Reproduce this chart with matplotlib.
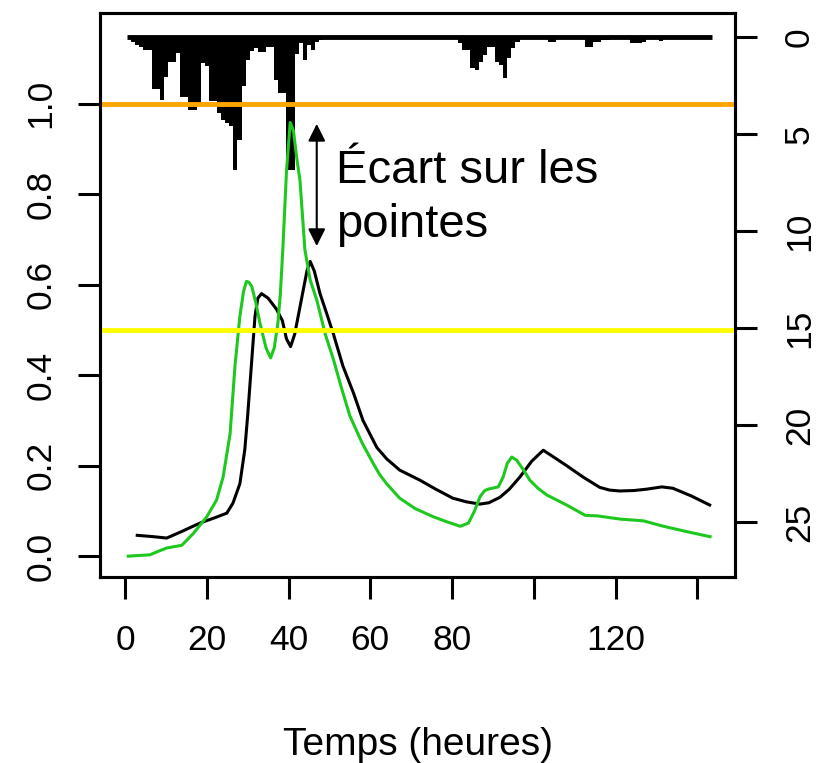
import numpy as np
import matplotlib.pyplot as plt

plt.rcParams['font.family'] = ['Liberation Sans', 'DejaVu Sans']

# débit (normalisé) - courbe noire
black_t = [3.0, 7.0, 10.2, 14.0, 18.3, 22.0, 24.9, 26.4, 28.1, 29.3, 30.0, 30.9, 31.8,
           32.5, 33.4, 35.0, 37.1, 38.5, 39.5, 40.5, 41.5, 43.0, 44.5, 45.3, 46.3, 47.7,
           49.3, 51.0, 53.3, 55.9, 58.2, 61.6, 64.0, 67.2, 72.1, 76.0, 80.2, 83.5, 86.8,
           89.0, 91.7, 94.0, 96.6, 99.5, 102.3, 105.0, 108.0, 112.0, 116.1, 118.5, 121.0,
           124.5, 127.6, 131.3, 134.0, 138.5, 143.0]
black_q = [0.046, 0.043, 0.040, 0.055, 0.073, 0.085, 0.095, 0.117, 0.16, 0.235, 0.31, 0.42, 0.53,
           0.57, 0.58, 0.57, 0.545, 0.52, 0.48, 0.463, 0.49, 0.56, 0.63, 0.651, 0.63, 0.58,
           0.537, 0.49, 0.42, 0.36, 0.30, 0.24, 0.215, 0.19, 0.168, 0.148, 0.128, 0.12, 0.115,
           0.118, 0.13, 0.148, 0.175, 0.21, 0.234, 0.218, 0.20, 0.175, 0.152, 0.146, 0.144,
           0.145, 0.148, 0.153, 0.15, 0.133, 0.113]

# débit (normalisé) - courbe verte
green_t = [0.8, 6.1, 8.5, 10.2, 13.9, 16.7, 20.0, 22.4, 24.0, 25.7, 26.9, 28.1, 29.0, 29.7,
           30.3, 31.0, 32.0, 33.0, 34.5, 35.6, 36.5, 37.4, 38.0, 38.6, 39.5, 40.4, 41.2,
           42.0, 42.8, 44.0, 45.3, 46.9, 49.0, 51.0, 53.0, 55.0, 58.0, 60.7, 62.3, 64.0,
           67.2, 71.0, 75.4, 79.0, 82.0, 84.0, 85.5, 86.8, 88.0, 88.8, 91.3, 92.5, 93.5,
           94.6, 95.8, 97.5, 99.0, 101.0, 103.2, 108.0, 112.6, 115.5, 121.0, 126.8, 131.7,
           137.5, 143.1]
green_q = [0.0, 0.003, 0.012, 0.018, 0.024, 0.05, 0.087, 0.124, 0.175, 0.27, 0.42, 0.53, 0.585, 0.607,
           0.605, 0.596, 0.56, 0.515, 0.46, 0.438, 0.46, 0.515, 0.58, 0.677, 0.85, 0.958, 0.94,
           0.88, 0.83, 0.677, 0.61, 0.566, 0.49, 0.434, 0.37, 0.31, 0.25, 0.205, 0.18, 0.16,
           0.128, 0.105, 0.087, 0.075, 0.066, 0.073, 0.10, 0.131, 0.145, 0.148, 0.153, 0.175, 0.205,
           0.219, 0.212, 0.19, 0.168, 0.15, 0.135, 0.113, 0.09, 0.089, 0.082, 0.078, 0.066,
           0.054, 0.043]

# pluie horaire (mm)
rain_hours = np.arange(1, 144)
event1_mm = [0.05, 0.24, 0.4, 0.5, 0.67, 0.67, 2.7, 2.7, 3.25, 2.05, 1.27, 1.27, 0.84,
             3.1, 3.1, 3.76, 3.76, 3.5, 1.35, 1.5, 3.3, 3.3, 3.9, 4.3, 4.45, 4.6, 6.85,
             5.3, 2.5, 1.2, 0.7, 0.58, 0.76, 0.76, 0.5, 0.5, 2.2, 2.9, 2.9, 6.85, 6.85,
             0.85, 0.3, 1.2, 0.4, 0.67, 0.24, 0.15]          # heures 1-48
event2_mm = [0.3, 0.67, 0.67, 1.6, 1.7, 1.27, 0.93, 0.5, 0.5, 1.27, 1.44, 2.1, 1.1,
             0.57, 0.24]                                     # heures 82-96
small_hours = [104, 105, 113, 114, 115, 116, 117, 118, 124, 125, 126, 127, 131]
small_mm = [0.24, 0.24, 0.5, 0.5, 0.24, 0.24, 0.15, 0.15, 0.3, 0.3, 0.3, 0.24, 0.2]

x_ticks = [0, 20, 40, 60, 80, 100, 120, 140]
x_labels = ['0', '20', '40', '60', '80', '', '120', '']
left_ticks = [0.0, 0.2, 0.4, 0.6, 0.8, 1.0]
right_ticks = [0, 5, 10, 15, 20, 25]

rain = np.zeros(len(rain_hours))
rain[0:48] = event1_mm
rain[81:96] = event2_mm
rain[np.array(small_hours) - 1] = small_mm

fig = plt.figure(figsize=(8.22, 7.63), dpi=100)
ax = fig.add_axes([0.1217, 0.2438, 0.7725, 0.7392])
ax2 = ax.twinx()
ax.set_zorder(ax2.get_zorder() + 1)
ax.patch.set_visible(False)

# hyetogramme
ax2.fill_between(rain_hours, 0, rain, step='mid', color='black', lw=0)
ax2.plot([rain_hours[0] - 0.5, rain_hours[-1] + 0.5], [0, 0], color='black',
         lw=3.5, solid_capstyle='butt')
ax2.set_ylim(27.83, -1.24)
ax2.set_yticks(right_ticks)

ax.plot(black_t, black_q, color='black', lw=2.2)
ax.plot(green_t, green_q, color='#1ec81e', lw=2.2)
ax.axhline(1.0, color='#FFA500', lw=3.5)
ax.axhline(0.5, color='#FFFF00', lw=3.5)

ax.set_xlim(-6.1, 149.2)
ax.set_ylim(-0.046, 1.2)
ax.set_xticks(x_ticks)
ax.set_xticklabels(x_labels)
ax.set_yticks(left_ticks)
ax.set_yticklabels([f'{v:.1f}' for v in left_ticks])

ax.tick_params(axis='x', length=16, width=2.2, labelsize=25.5, pad=18)
ax.tick_params(axis='y', length=16, width=2.2, labelsize=25.5, pad=14.5, labelrotation=90)
ax2.tick_params(axis='y', length=16, width=2.2, labelsize=25.5, pad=18.5, labelrotation=90)
plt.setp(ax.get_yticklabels(), va='center')
plt.setp(ax2.get_yticklabels(), va='center')

for a in (ax, ax2):
    for s in a.spines.values():
        s.set_linewidth(2.2)

ax.set_xlabel('Temps (heures)', fontsize=28, labelpad=50)

ax.annotate('', xy=(46.9, 0.955), xytext=(46.9, 0.685),
            arrowprops=dict(arrowstyle='<|-|>', color='black', lw=1.5,
                            mutation_scale=26, shrinkA=0, shrinkB=0))
ax.text(51.6, 0.704, 'Écart sur les\npointes', fontsize=34, ha='left',
        va='baseline', linespacing=1.31)

fig.savefig('out.png', dpi=100)
